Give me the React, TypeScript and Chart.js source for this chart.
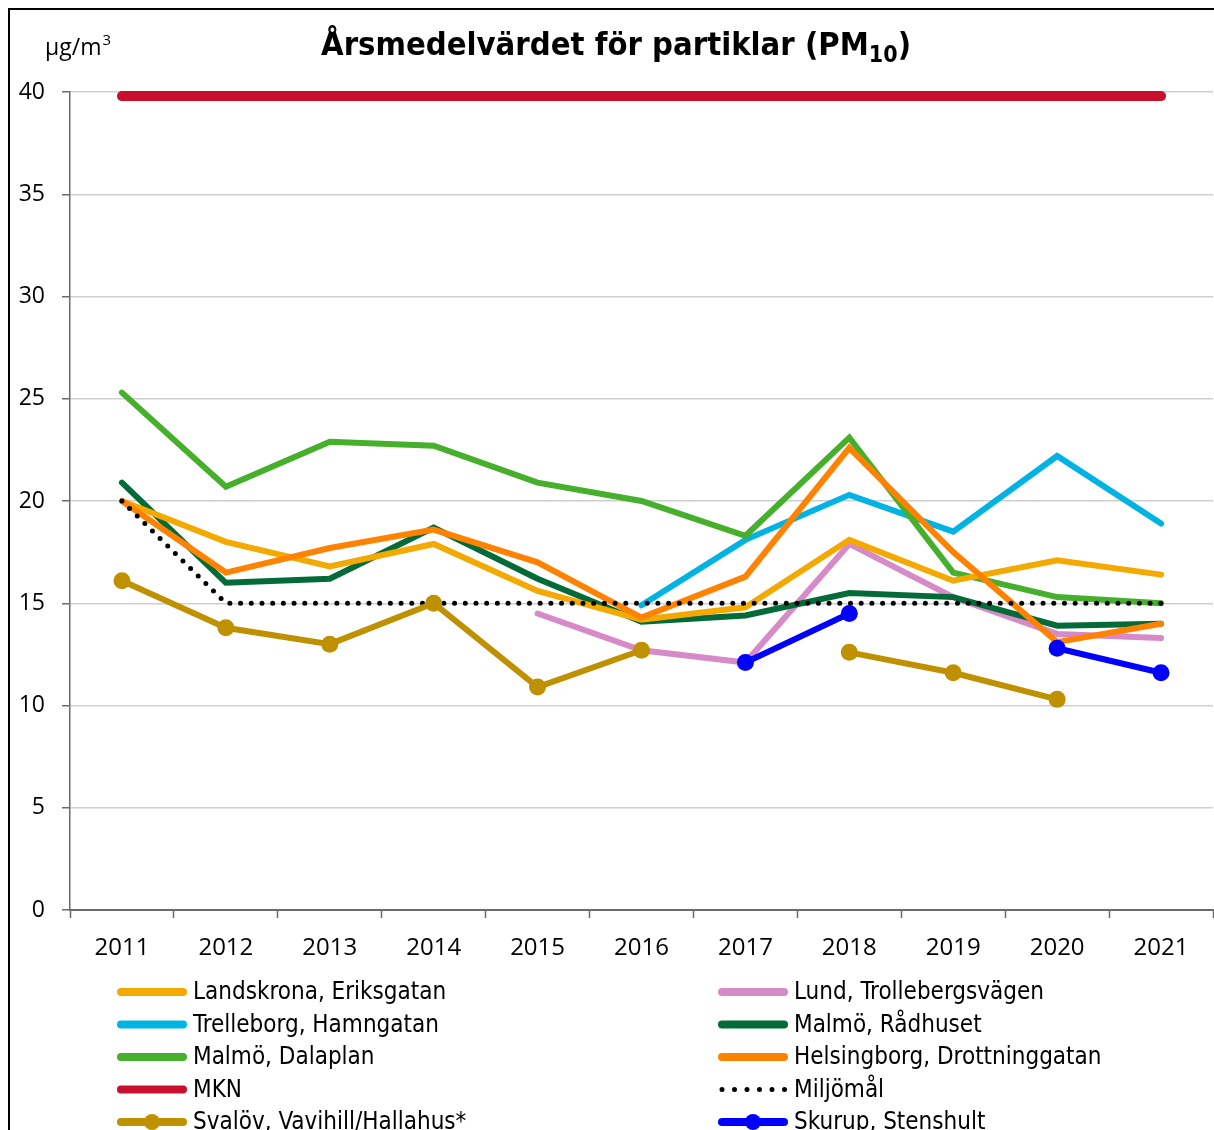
import React, { useEffect, useRef } from "react";
import { Chart, registerables } from "chart.js";

Chart.register(...registerables);

const years = ["2011", "2012", "2013", "2014", "2015", "2016", "2017", "2018", "2019", "2020", "2021"];
const yTicks = [0, 5, 10, 15, 20, 25, 30, 35, 40];

const landskrona = [20.0, 18.0, 16.8, 17.9, 15.6, 14.2, 14.8, 18.1, 16.1, 17.1, 16.4];
const lund = [null, null, null, null, 14.5, 12.7, 12.1, 17.9, 15.3, 13.5, 13.3];
const trelleborg = [null, null, null, null, null, 14.9, 18.1, 20.3, 18.5, 22.2, 18.9];
const radhuset = [20.9, 16.0, 16.2, 18.7, 16.2, 14.1, 14.4, 15.5, 15.3, 13.9, 14.0];
const dalaplan = [25.3, 20.7, 22.9, 22.7, 20.9, 20.0, 18.3, 23.1, 16.5, 15.3, 15.0];
const helsingborg = [20.0, 16.5, 17.7, 18.6, 17.0, 14.3, 16.3, 22.6, 17.5, 13.1, 14.0];
const mkn = [39.8, 39.8, 39.8, 39.8, 39.8, 39.8, 39.8, 39.8, 39.8, 39.8, 39.8];
const miljomal = [20, 15, 15, 15, 15, 15, 15, 15, 15, 15, 15];
const svalov = [16.1, 13.8, 13.0, 15.0, 10.9, 12.7, null, 12.6, 11.6, 10.3, null];
const skurup = [null, null, null, null, null, null, 12.1, 14.5, null, 12.8, 11.6];

const legendLeft = ["Landskrona, Eriksgatan", "Trelleborg, Hamngatan", "Malmö, Dalaplan", "MKN", "Svalöv, Vavihill/Hallahus*"];
const legendRight = ["Lund, Trollebergsvägen", "Malmö, Rådhuset", "Helsingborg, Drottninggatan", "Miljömål", "Skurup, Stenshult"];

const TICK_FONT = '"Open Sans", "Noto Sans", sans-serif';
const COND_FONT = '"DejaVu Sans Condensed", "Liberation Sans Narrow", sans-serif';

const decorPlugin = {
  id: "decor",
  afterDraw(chart: any) {
    const ctx: CanvasRenderingContext2D = chart.ctx;
    ctx.save();
    // Title
    const main = "Årsmedelvärdet för partiklar (PM";
    ctx.fillStyle = "#000";
    ctx.textBaseline = "alphabetic";
    ctx.textAlign = "left";
    ctx.font = `bold 32.5px ${COND_FONT}`;
    const w1 = ctx.measureText(main).width;
    const w3 = ctx.measureText(")").width;
    ctx.font = `bold 23px ${COND_FONT}`;
    const w2 = ctx.measureText("10").width;
    let x = 606 - (w1 + w2 + w3) / 2;
    const by = 45;
    ctx.font = `bold 32.5px ${COND_FONT}`;
    ctx.fillText(main, x, by);
    x += w1;
    ctx.font = `bold 23px ${COND_FONT}`;
    ctx.fillText("10", x, by + 7);
    x += w2;
    ctx.font = `bold 32.5px ${COND_FONT}`;
    ctx.fillText(")", x, by);

    // Unit
    ctx.font = `23px ${TICK_FONT}`;
    const u = "µg/m";
    ctx.fillText(u, 35, 45);
    const uw = ctx.measureText(u).width;
    ctx.font = `15px ${TICK_FONT}`;
    ctx.fillText("3", 35 + uw + 1, 35);

    // Legend
    const datasets = chart.data.datasets;
    const drawItem = (label: string, lx: number, ly: number) => {
      const ds = datasets.find((d: any) => d.label === label);
      if (!ds) return;
      const color = ds.borderColor;
      ctx.save();
      ctx.strokeStyle = color;
      ctx.fillStyle = color;
      ctx.lineCap = "round";
      if (ds.borderDash && ds.borderDash.length) {
        ctx.lineWidth = 5;
        ctx.setLineDash([0, 12.5]);
        ctx.beginPath();
        ctx.moveTo(lx + 4, ly);
        ctx.lineTo(lx + 67, ly);
        ctx.stroke();
      } else {
        ctx.lineWidth = 8;
        ctx.setLineDash([]);
        ctx.beginPath();
        ctx.moveTo(lx + 4, ly);
        ctx.lineTo(lx + 66, ly);
        ctx.stroke();
        if (ds.pointRadius > 0) {
          ctx.beginPath();
          ctx.arc(lx + 35, ly, 8, 0, Math.PI * 2);
          ctx.fill();
        }
      }
      ctx.restore();
      ctx.fillStyle = "#000";
      ctx.font = `24px ${COND_FONT}`;
      ctx.textBaseline = "middle";
      ctx.textAlign = "left";
      ctx.fillText(label, lx + 76, ly + 1);
    };
    legendLeft.forEach((l, i) => drawItem(l, 107, 982 + i * 32.5));
    legendRight.forEach((l, i) => drawItem(l, 708, 982 + i * 32.5));
    ctx.restore();
  },
};

export default function App() {
  const canvasRef = useRef<HTMLCanvasElement | null>(null);

  useEffect(() => {
    document.documentElement.style.overflow = "hidden";
    document.body.style.overflow = "hidden";
    const canvas = canvasRef.current;
    if (!canvas) return;

    const line = (label: string, data: (number | null)[], color: string, order: number, extra: any = {}) => ({
      label,
      data,
      borderColor: color,
      backgroundColor: color,
      borderWidth: 6,
      borderCapStyle: "round",
      borderJoinStyle: "miter",
      pointRadius: 0,
      pointHoverRadius: 0,
      spanGaps: false,
      fill: false,
      tension: 0,
      order,
      clip: false,
      ...extra,
    });

    const chart = new Chart(canvas, {
      type: "line",
      data: {
        labels: years,
        datasets: [
          line("MKN", mkn, "#C8102E", 10, { borderWidth: 10 }),
          line("Lund, Trollebergsvägen", lund, "#D68BC8", 9),
          line("Trelleborg, Hamngatan", trelleborg, "#00B3E3", 8),
          line("Malmö, Dalaplan", dalaplan, "#46B02C", 7),
          line("Malmö, Rådhuset", radhuset, "#036B37", 6),
          line("Landskrona, Eriksgatan", landskrona, "#F4A900", 5),
          line("Helsingborg, Drottninggatan", helsingborg, "#FF8200", 4),
          line("Miljömål", miljomal, "#000000", 3, { borderWidth: 5, borderDash: [0, 10.7], borderCapStyle: "round" }),
          line("Svalöv, Vavihill/Hallahus*", svalov, "#BF9000", 2, { pointRadius: 8.5, pointBorderWidth: 0, pointBackgroundColor: "#BF9000" }),
          line("Skurup, Stenshult", skurup, "#0000FF", 1, { pointRadius: 8.5, pointBorderWidth: 0, pointBackgroundColor: "#0000FF" }),
        ],
      },
      options: {
        responsive: false,
        animation: false,
        devicePixelRatio: 1,
        events: [],
        layout: { autoPadding: false, padding: { top: 82, left: 0, right: 1, bottom: 170 } },
        plugins: {
          legend: { display: false },
          title: { display: false },
          tooltip: { enabled: false },
        },
        scales: {
          x: {
            type: "category",
            offset: true,
            grid: {
              offset: true,
              drawOnChartArea: false,
              drawTicks: true,
              tickLength: 8,
              tickColor: "#6b6b6b",
              tickWidth: 1.5,
            },
            border: { color: "#6b6b6b", width: 2 },
            ticks: {
              color: "#000",
              font: { family: TICK_FONT, size: 24 },
              padding: 16,
              maxRotation: 0,
              autoSkip: false,
            },
            afterFit: (s: any) => {
              s.height = 50;
              s.paddingLeft = 0;
              s.paddingRight = 0;
            },
          },
          y: {
            min: 0,
            max: 40,
            afterBuildTicks: (s: any) => {
              s.ticks = yTicks.map((v) => ({ value: v }));
            },
            grid: {
              color: "#cfcfcf",
              lineWidth: 1.5,
              drawTicks: true,
              tickLength: 8,
              tickColor: "#6b6b6b",
              tickWidth: 1.5,
            },
            border: { color: "#6b6b6b", width: 1.5 },
            ticks: {
              color: "#000",
              font: { family: TICK_FONT, size: 23 },
              padding: 17,
            },
            afterFit: (s: any) => {
              s.width = 60;
              s.paddingTop = 0;
              s.paddingBottom = 0;
            },
          },
        },
      },
      plugins: [decorPlugin],
    } as any);

    return () => chart.destroy();
  }, []);

  return (
    <div
      style={{
        position: "absolute",
        left: 8,
        top: 8,
        borderTop: "2px solid #000",
        borderLeft: "2px solid #000",
        width: 1204,
        height: 1120,
        overflow: "hidden",
      }}
    >
      <canvas ref={canvasRef} width={1204} height={1120} style={{ display: "block", width: 1204, height: 1120 }} />
    </div>
  );
}
